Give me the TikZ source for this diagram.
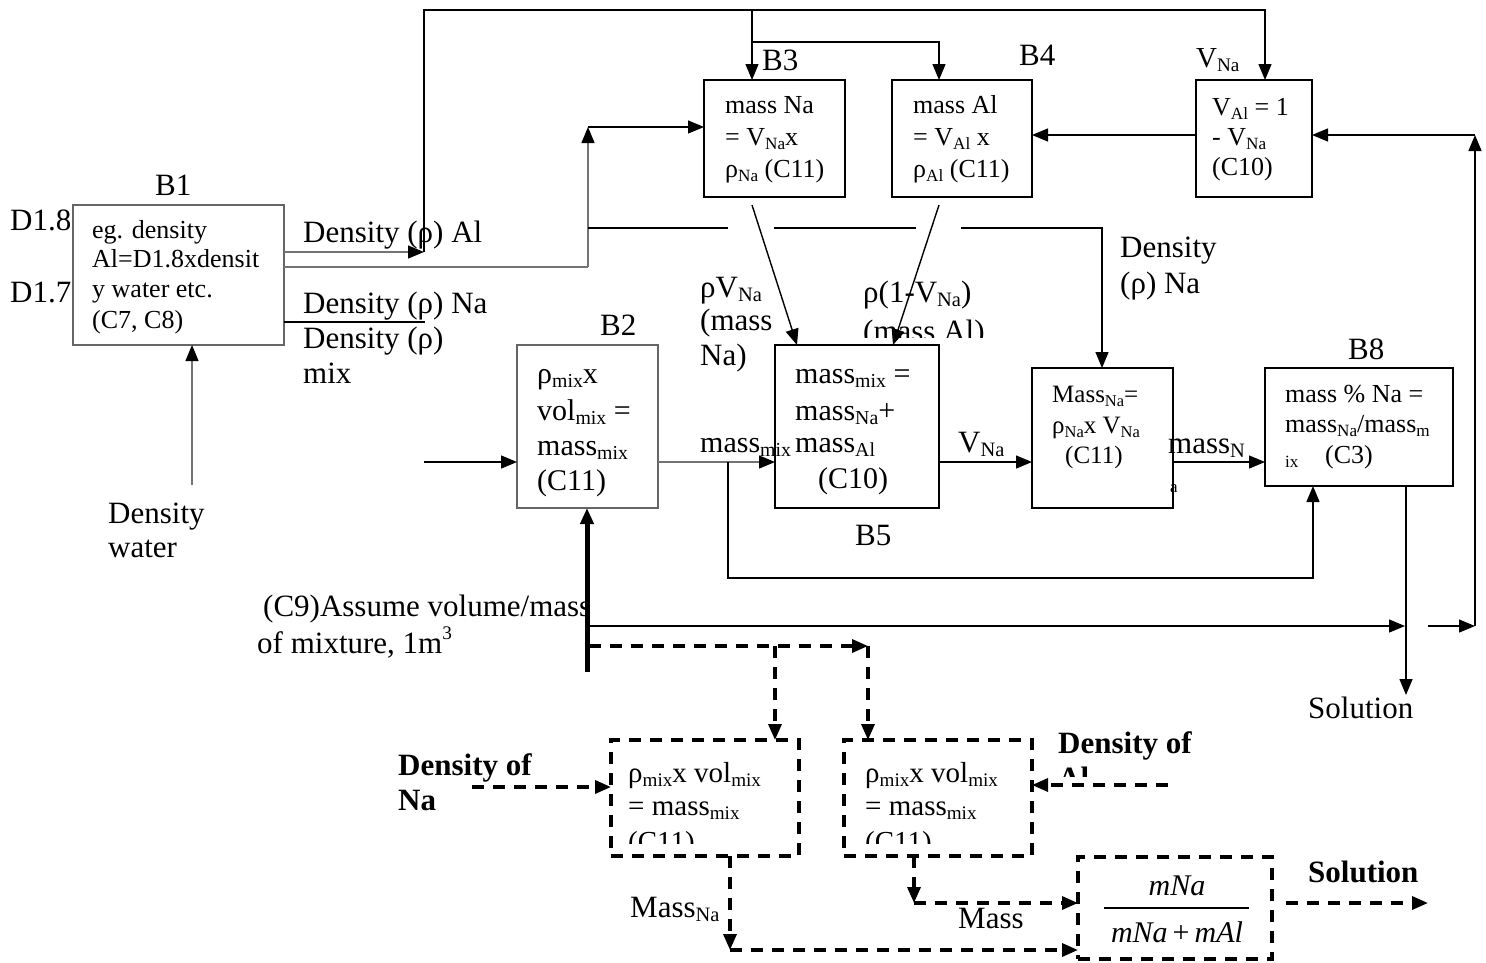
\documentclass[tikz,border=0pt]{standalone}
\usepackage{fontspec}
\usepackage{graphicx}
\setmainfont{Liberation Serif}
\usetikzlibrary{arrows.meta,calc}
\newcommand{\lo}[1]{\raisebox{-0.16em}{\scalebox{0.66}{#1}}}
\newcommand{\hi}[1]{\raisebox{0.42em}{\scalebox{0.62}{#1}}}
\tikzset{
 ln/.style={line width=1.4pt, draw=black},
 gln/.style={line width=1.4pt, draw=black!55},
 dln/.style={line width=3.4pt, dash pattern=on 12pt off 9pt},
 tip/.style={-{Triangle[length=16pt,width=13pt,color=black]}},
 box/.style={draw, line width=1.8pt, inner sep=0pt, outer sep=0pt},
 gbox/.style={draw=black!60, line width=1.4pt, inner sep=0pt, outer sep=0pt},
 dbox/.style={draw, line width=3.4pt, dash pattern=on 12pt off 9pt, inner sep=0pt, outer sep=0pt},
 big/.style={inner sep=0pt, anchor=base west, font=\fontsize{31}{36}\selectfont},
 bx/.style={inner sep=0pt, anchor=base west, font=\fontsize{30}{35}\selectfont},
 mid/.style={inner sep=0pt, anchor=base west, font=\fontsize{29}{34}\selectfont},
 sm/.style={inner sep=0pt, anchor=base west, font=\fontsize{26}{31}\selectfont},
 xs/.style={inner sep=0pt, anchor=base west, font=\fontsize{25}{30}\selectfont},
 bb/.style={inner sep=0pt, anchor=base west, font=\bfseries\fontsize{31}{36}\selectfont},
 fr/.style={inner sep=0pt, anchor=base, font=\itshape\fontsize{30}{35}\selectfont},
}
\begin{document}
\begin{tikzpicture}[x=1pt,y=-1pt]
\useasboundingbox (0,0) rectangle (1486,962);
\fill[white] (0,0) rectangle (1486,962);

% ---------- boxes ----------
\node[gbox, minimum width=211pt, minimum height=140pt] (b1) at (178.5,275) {};
\node[gbox, minimum width=141pt, minimum height=163pt] (b2) at (587.5,426.5) {};
\node[box, minimum width=141pt, minimum height=117pt] (b3) at (774.5,138.5) {};
\node[box, minimum width=140pt, minimum height=117pt] (b4) at (962,138.5) {};
\node[box, minimum width=116pt, minimum height=117pt] (bva) at (1254,138.5) {};
\node[box, minimum width=164pt, minimum height=163pt] (b5) at (857,426.5) {};
\node[box, minimum width=141pt, minimum height=140pt] (b6) at (1102.5,438) {};
\node[box, minimum width=188pt, minimum height=118pt] (b8) at (1359,427) {};
\node[dbox, minimum width=188pt, minimum height=116pt] (d1) at (705,798) {};
\node[dbox, minimum width=188pt, minimum height=116pt] (d2) at (938,798) {};
\node[dbox, minimum width=194pt, minimum height=102pt] (d3) at (1175,908) {};

% ---------- coordinates ----------
\coordinate (jA) at (424,252);
\coordinate (tr) at (1265,10);
\coordinate (tB3) at (752,10);
\coordinate (jB4) at (752,42);
\coordinate (k4) at (939,42);
\coordinate (rb) at (1475,626);
\coordinate (rt) at (1475,135);
\coordinate (u0) at (588,267);
\coordinate (u1) at (588,127);
\coordinate (na) at (425,322);
\coordinate (dw) at (192,485);
\coordinate (h0) at (588,228);
\coordinate (h1) at (728,228);
\coordinate (h2) at (774,228);
\coordinate (h3) at (916,228);
\coordinate (h4) at (961,228);
\coordinate (h5) at (1102,228);
\coordinate (s3) at (752,205);
\coordinate (s4) at (939,205);
\coordinate (in2) at (424,462);
\coordinate (lp) at (728,462);
\coordinate (lpb) at (728,578);
\coordinate (sol) at (1406,695);
\coordinate (c9) at (589,626);
\coordinate (c9e) at (1405,626);
\coordinate (c9f) at (1428,626);
\coordinate (tk) at (587,672);
\coordinate (ds0) at (589,646);
\coordinate (ds1) at (868,646);
\coordinate (ds2) at (775,646);
\coordinate (dl) at (472,787);
\coordinate (dr) at (1168,785);
\coordinate (m1) at (730,950);
\coordinate (m2) at (914,903);
\coordinate (so) at (1428,903);

% ---------- solid connectors ----------
\draw[ln,tip] (jA) |- (tr) -- (tr |- bva.north);
\draw[ln,tip] (tB3) -- (tB3 |- b3.north);
\draw[ln,tip] (jB4) -- (k4) -- (k4 |- b4.north);
\draw[ln,tip] ([yshift=3.5pt]bva.west) -- ([yshift=3.5pt]b4.east);
\draw[ln,tip] (rb) -- (rt);
\draw[ln,tip] (rt) -- (rt -| bva.east);
\draw[gln] (b1.east |- u0) -- (u0);
\draw[gln,tip] (u0) -- (u1);
\draw[ln,tip] (u1) -- (u1 -| b3.west);
\draw[gln,tip] (b1.east |- jA) -- (jA);
\draw[line width=2pt] (b1.east |- na) -- (na);
\draw[gln,tip] (dw) -- (dw |- b1.south);
\draw[ln] (h0) -- (h1);
\draw[ln] (h2) -- (h3);
\draw[ln,tip] (h4) -- (h5) -- (h5 |- b6.north);
\draw[ln,tip] (s3) -- ($(b5.north west)+(22,0)$);
\draw[ln,tip] (s4) -- ($(b5.north west)+(118,0)$);
\draw[ln,tip] (in2) -- (in2 -| b2.west);
\draw[gln,tip] (b2.east |- in2) -- (b5.west |- in2);
\draw[ln,tip] (lp) -- (lpb) -| ($(b8.south west)+(48,0)$);
\draw[ln,tip] (b5.east |- in2) -- (b6.west |- in2);
\draw[ln,tip] (b6.east |- in2) -- (b8.west |- in2);
\draw[ln,tip] (b8.south -| sol) -- (sol);
\draw[ln,tip] (c9) -- (c9e);
\draw[ln,tip] (c9f) -- (rb);
\draw[line width=5pt,tip] (tk) -- (tk |- b2.south);

% ---------- dashed connectors ----------
\draw[dln,tip] (ds0) -- (ds1);
\draw[dln,tip] (ds1) -- (ds1 |- d2.north);
\draw[dln,tip] (ds2) -- (ds2 |- d1.north);
\draw[dln,tip] (dl) -- (dl -| d1.west);
\draw[dln,tip] (dr) -- (dr -| d2.east);
\draw[dln,tip] (d1.south -| m1) -- (m1);
\draw[dln,tip] (m1) -- (m1 -| d3.west);
\draw[dln,tip] (d2.south -| m2) -- (m2);
\draw[dln,tip] (m2) -- (m2 -| d3.west);
\draw[dln,tip] ([xshift=14pt]d3.east |- so) -- (so);

% ---------- labels ----------
\node[big] (tD18) at (10,230) {D1.8};
\node[big] (tD17) at (10,302) {D1.7};
\node[big] (tB1) at (155,195) {B1};
\node[big] (tDAl) at (303,242) {Density (ρ) Al};
\node[big] (tDNa) at (303,313) {Density (ρ) Na};
\node[big] (tDm1) at (303,348) {Density (ρ)};
\node[big] (tDm2) at (303,383) {mix};
\node[big] (tDw1) at (108,523) {Density};
\node[big] (tDw2) at (108,557) {water};
\node[big] (tB2) at (600,335) {B2};
\node[big] (tB3) at (762,70) {B3};
\node[big] (tB4) at (1019,65) {B4};
\node[mid] (tVNa) at (1196,67) {V\lo{Na}};
\node[big] (tr1) at (700,297) {ρV\lo{Na}};
\node[big] (tr2) at (700,330) {(mass};
\node[big] (tr3) at (700,365) {Na)};
\node[big] (tq1) at (863,302) {ρ(1-V\lo{Na})};
\begin{scope}
\clip (850,300) rectangle (1010,337.5);
\node[big] (tq2) at (863,341) {(mass Al)};
\end{scope}
\node[big] (tDN1) at (1120,257) {Density};
\node[big] (tDN2) at (1120,293) {(ρ) Na};
\node[bx] (tmm) at (700,452) {mass\lo{mix}};
\node[big] (tvn) at (958,452) {V\lo{Na}};
\node[big] (tmN) at (1168,453) {mass\lo{N}};
\node[inner sep=0pt, anchor=base west, font=\fontsize{17}{20}\selectfont] (tma) at (1170,492) {a};
\node[big] (tB5) at (855,545) {B5};
\node[big] (tB8) at (1348,359) {B8};
\node[big] (tsol) at (1308,718) {Solution};
\node[big] (tc91) at (263,616) {(C9)Assume volume/mass};
\node[big] (tc92) at (257,653) {of mixture, 1m\hi{3}};
\node[big] (tMNa) at (630,917) {Mass\lo{Na}};
\node[big] (tMass) at (958,928) {Mass};
\node[bb] (tdo1) at (398,775) {Density of};
\node[bb] (tdo2) at (398,810) {Na};
\node[bb] (tdo3) at (1058,753) {Density of};
\begin{scope}
\clip (1040,740) rectangle (1200,776);
\node[bb] (tdo4) at (1058,788) {Al};
\end{scope}
\node[bb] (tsol2) at (1308,882) {Solution};

% ---------- box texts ----------
\node[sm] (x11) at (92,238) {eg. density};
\node[sm] (x12) at (92,267) {Al=D1.8xdensit};
\node[sm] (x13) at (92,297) {y water etc.};
\node[sm] (x14) at (92,328) {(C7, C8)};

\node[sm] (x31) at (725,113) {mass Na};
\node[sm] (x32) at (725,145) {= V\lo{Na}x};
\node[sm] (x33) at (725,177) {ρ\lo{Na} (C11)};

\node[sm] (x41) at (913,113) {mass Al};
\node[sm] (x42) at (913,145) {= V\lo{Al} x};
\node[sm] (x43) at (913,177) {ρ\lo{Al} (C11)};

\node[sm] (xv1) at (1212,115) {V\lo{Al} = 1};
\node[sm] (xv2) at (1212,145) {- V\lo{Na}};
\node[sm] (xv3) at (1212,175) {(C10)};

\node[xs] (x61) at (1052,402) {Mass\lo{Na}=};
\node[xs] (x62) at (1052,433) {ρ\lo{Na}x V\lo{Na}};
\node[xs] (x63) at (1065,463) {(C11)};

\node[sm] (x81) at (1285,402) {mass \% Na =};
\node[sm] (x82) at (1285,432) {mass\lo{Na}/mass\lo{m}};
\node[sm] (x83) at (1285,467) {\scalebox{0.66}{ix}};
\node[sm] (x84) at (1325,463) {(C3)};

\node[bx] (x21) at (537,383) {ρ\lo{mix}x};
\node[bx] (x22) at (537,420) {vol\lo{mix} =};
\node[bx] (x23) at (537,455) {mass\lo{mix}};
\node[bx] (x24) at (537,490) {(C11)};

\node[bx] (x51) at (795,383) {mass\lo{mix} =};
\node[bx] (x52) at (795,420) {mass\lo{Na}+};
\node[bx] (x53) at (795,452) {mass\lo{Al}};
\node[bx] (x54) at (818,488) {(C10)};

\node[mid] (y11) at (628,782) {ρ\lo{mix}x vol\lo{mix}};
\node[mid] (y12) at (628,815) {= mass\lo{mix}};
\begin{scope}
\clip (620,820) rectangle (790,843);
\node[mid] (y13) at (628,851) {(C11)};
\end{scope}
\node[mid] (y21) at (865,782) {ρ\lo{mix}x vol\lo{mix}};
\node[mid] (y22) at (865,815) {= mass\lo{mix}};
\begin{scope}
\clip (855,820) rectangle (1025,843);
\node[mid] (y23) at (865,851) {(C11)};
\end{scope}

% fraction
\node[fr] (fn) at (1177,895) {mNa};
\draw[line width=1.2pt] (1104,908) -- (1249,908);
\node[fr] (fd) at (1177,942) {mNa\,{\upshape +}\,mAl};
\end{tikzpicture}
\end{document}
